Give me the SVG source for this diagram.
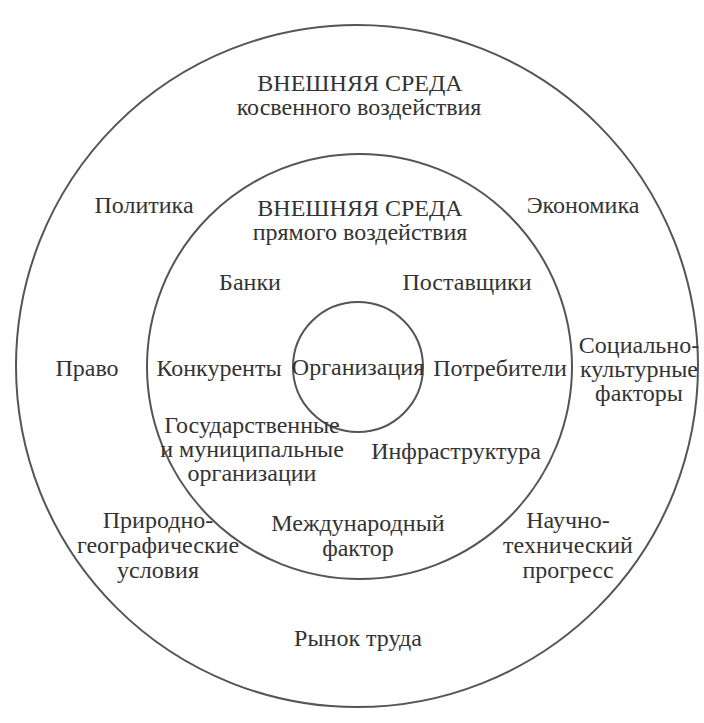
<svg xmlns="http://www.w3.org/2000/svg" width="704" height="723" viewBox="0 0 704 723">
<style>
.c{fill:none;stroke:#555;stroke-width:2}
</style>
<rect width="704" height="723" fill="#fff"/>
<g font-family="Liberation Serif, Times New Roman, serif" font-size="24" fill="#333" text-anchor="middle">
<g id="outer">
<circle class="c" cx="357" cy="366" r="341"/>
<text x="360" y="91">ВНЕШНЯЯ СРЕДА</text>
<text x="359" y="115">косвенного воздействия</text>
</g>
<g id="inner">
<circle class="c" cx="359.5" cy="366.5" r="212.5"/>
<text x="360" y="216">ВНЕШНЯЯ СРЕДА</text>
<text x="360" y="240">прямого воздействия</text>
</g>
<g id="org">
<circle class="c" cx="358" cy="367" r="65"/>
<text x="358" y="375">Организация</text>
</g>
<g id="politika"><text x="144" y="213">Политика</text></g>
<g id="ekonomika"><text x="583" y="213">Экономика</text></g>
<g id="pravo"><text x="87" y="376">Право</text></g>
<g id="social"><text x="639" y="353">Социально-</text><text x="639" y="377">культурные</text><text x="639" y="401">факторы</text></g>
<g id="prirod"><text x="158" y="528">Природно-</text><text x="158" y="553">географические</text><text x="158" y="578">условия</text></g>
<g id="nauch"><text x="568" y="528">Научно-</text><text x="568" y="553">технический</text><text x="568" y="578">прогресс</text></g>
<g id="rynok"><text x="358" y="646">Рынок труда</text></g>
<g id="banki"><text x="250" y="290">Банки</text></g>
<g id="post"><text x="467" y="290">Поставщики</text></g>
<g id="konk"><text x="219" y="376">Конкуренты</text></g>
<g id="potr"><text x="500" y="376">Потребители</text></g>
<g id="gos"><text x="252" y="433">Государственные</text><text x="252" y="457">и муниципальные</text><text x="252" y="481">организации</text></g>
<g id="infra"><text x="456" y="459">Инфраструктура</text></g>
<g id="mezh"><text x="358" y="531">Международный</text><text x="358" y="556">фактор</text></g>
</g>
<g id="connectors"/>
</svg>
